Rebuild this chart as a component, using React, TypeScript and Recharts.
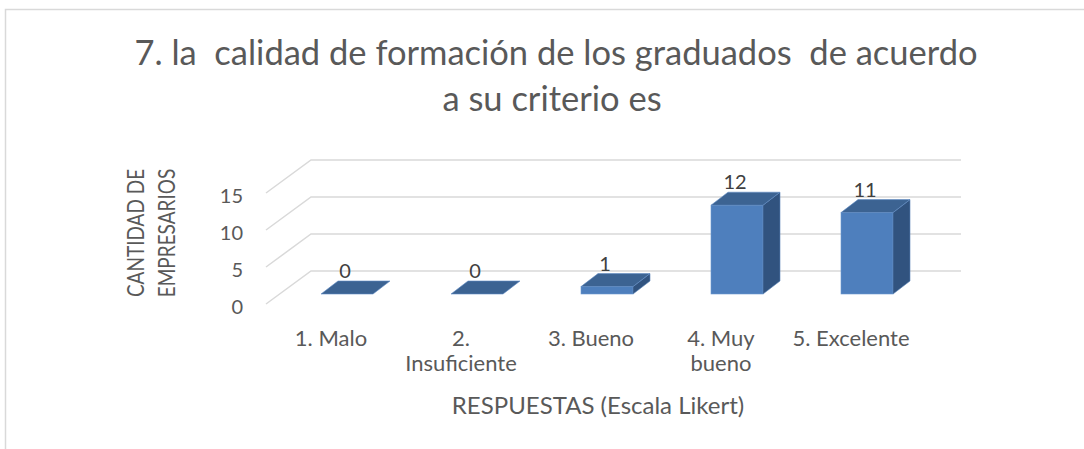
import { Bar, BarChart, CartesianGrid, Customized, LabelList, XAxis, YAxis } from "recharts";

const categories = ["1. Malo", "2. Insuficiente", "3. Bueno", "4. Muy bueno", "5. Excelente"];
const tickLines = [["1. Malo"], ["2.", "Insuficiente"], ["3. Bueno"], ["4. Muy", "bueno"], ["5. Excelente"]];
const counts = [0, 0, 1, 12, 11];
const yTicks = [0, 5, 10, 15];

const data = categories.map((name, i) => ({ name, value: counts[i], lines: tickLines[i] }));

const FONT = "Lato, 'Open Sans', sans-serif";
const TEXT = "#595959";
// depth of the 3d floor/back wall and of the bars
const DEPTH_X = 45;
const DEPTH_Y = -33;
const BAR_SHIFT_X = 16;
const BAR_SHIFT_Y = -10;
const BAR_DX = 17;
const BAR_DY = -13;

const gridLine = (props: any) => {
    const { x1, y1, x2, index } = props;
    const d = `M${x1},${y1} L${x1 + DEPTH_X},${y1 + DEPTH_Y} L${x2 + DEPTH_X},${y1 + DEPTH_Y}`;
    return <path key={`g-${index}`} d={d} fill="none" stroke="#d9d9d9" strokeWidth={1.5} />;
};

const Bar3D = (props: any) => {
    const { x, y, width, height } = props;
    const fx = x + BAR_SHIFT_X;
    const fy = y + BAR_SHIFT_Y;
    const h = Math.max(height, 0);
    const top = `${fx},${fy} ${fx + BAR_DX},${fy + BAR_DY} ${fx + width + BAR_DX},${fy + BAR_DY} ${fx + width},${fy}`;
    const side = `${fx + width},${fy} ${fx + width + BAR_DX},${fy + BAR_DY} ${fx + width + BAR_DX},${fy + BAR_DY + h} ${fx + width},${fy + h}`;
    return (
        <g>
            {h > 0 && <rect x={fx} y={fy} width={width} height={h} fill="#4E7FBD" stroke="#6b98cf" strokeWidth={0.6} />}
            {h > 0 && <polygon points={side} fill="#31537F" stroke="#5a84b8" strokeWidth={0.6} />}
            <polygon points={top} fill="#3C6392" stroke="#5f8cc4" strokeWidth={0.6} />
        </g>
    );
};

const ValueLabel = (props: any) => {
    const { x, y, width, value } = props;
    return (
        <text x={x + width / 2 + BAR_SHIFT_X - 2} y={y + BAR_SHIFT_Y - 24} textAnchor="middle" dominantBaseline="central"
              fontFamily={FONT} fontSize={20} fill="#404040">
            {value}
        </text>
    );
};

const CategoryTick = (props: any) => {
    const { x, y, payload, index } = props;
    const lines = tickLines[index] ?? [payload.value];
    return (
        <g>
            {lines.map((t: string, i: number) => (
                <text key={i} x={x} y={y + 25 + i * 25} textAnchor="middle" dominantBaseline="central"
                      fontFamily={FONT} fontSize={22} fill={TEXT}>
                    {t}
                </text>
            ))}
        </g>
    );
};

const ValueTick = (props: any) => {
    const { y, payload } = props;
    return (
        <text x={243} y={y + 2} textAnchor="end" dominantBaseline="central" fontFamily={FONT} fontSize={20} fill={TEXT}>
            {payload.value}
        </text>
    );
};

const Decorations = () => (
    <g>
        <rect x={5.5} y={9.5} width={2000} height={2000} fill="none" stroke="#d9d9d9" strokeWidth={1.5} />
        <text x={556} y={65} textAnchor="middle" fontFamily={FONT} fontSize={34.5} fill={TEXT} style={{ whiteSpace: "pre" }}>
            {"7. la  calidad de formación de los graduados  de acuerdo"}
        </text>
        <text x={552} y={111} textAnchor="middle" fontFamily={FONT} fontSize={34.5} fill={TEXT}>
            a su criterio es
        </text>
        <text transform="translate(135,233) rotate(-90) scale(1,1.2)" textAnchor="middle" dominantBaseline="central"
              fontFamily={FONT} fontSize={19} fill={TEXT}>
            CANTIDAD DE
        </text>
        <text transform="translate(166,233) rotate(-90) scale(1,1.2)" textAnchor="middle" dominantBaseline="central"
              fontFamily={FONT} fontSize={19} fill={TEXT}>
            EMPRESARIOS
        </text>
        <text x={598} y={404} textAnchor="middle" dominantBaseline="central" fontFamily={FONT} fontSize={24} fill={TEXT}>
            RESPUESTAS (Escala Likert)
        </text>
    </g>
);

export default function App() {
    return (
        <div style={{ position: "absolute", left: 0, top: 0, background: "#fff" }}>
            <BarChart width={1084} height={449} data={data}
                      margin={{ top: 193, right: 168, bottom: 115, left: 206 }}>
                <Customized component={<Decorations />} />
                <CartesianGrid vertical={false} horizontal={gridLine} />
                <XAxis dataKey="name" height={30} axisLine={false} tickLine={false} interval={0} tick={<CategoryTick />} />
                <YAxis width={60} domain={[0, 15]} ticks={yTicks} axisLine={false} tickLine={false} tick={<ValueTick />} />
                <Bar dataKey="value" barSize={52} shape={<Bar3D />} isAnimationActive={false}>
                    <LabelList dataKey="value" content={<ValueLabel />} />
                </Bar>
            </BarChart>
        </div>
    );
}
